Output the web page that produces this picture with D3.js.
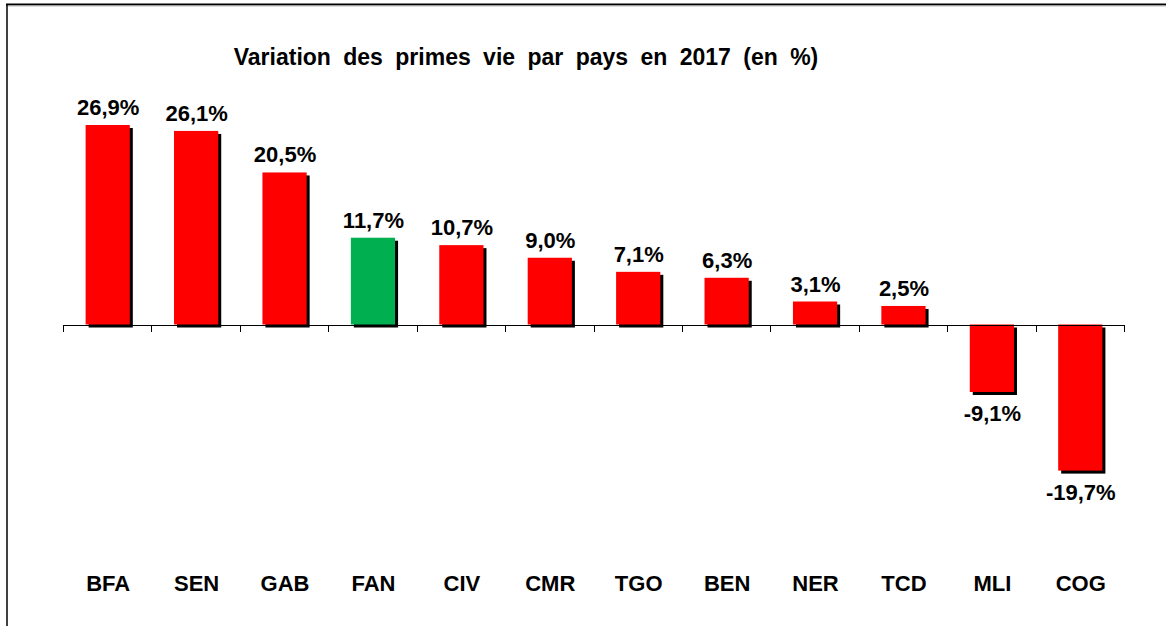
<!DOCTYPE html>
<html>
<head>
<meta charset="utf-8">
<script src="https://cdn.jsdelivr.net/npm/d3@7"></script>
<style>
  body { margin: 0; background: #fff; }
  text { font-family: "Liberation Sans", Arial, sans-serif; font-weight: bold; fill: #000; }
</style>
</head>
<body>
<div id="chart"></div>
<script>
// data
var countries = ["BFA", "SEN", "GAB", "FAN", "CIV", "CMR", "TGO", "BEN", "NER", "TCD", "MLI", "COG"];
var variations = [26.9, 26.1, 20.5, 11.7, 10.7, 9.0, 7.1, 6.3, 3.1, 2.5, -9.1, -19.7];
var highlight = "FAN";
var title = "Variation des primes vie par pays en 2017 (en %)";

var W = 1166, H = 626;

var svg = d3.select("#chart").append("svg")
    .attr("width", W)
    .attr("height", H);

// frame of the chart area (only top and left edges show)
svg.append("line")
    .attr("x1", 6).attr("x2", W).attr("y1", 4.5).attr("y2", 4.5)
    .attr("stroke", "#000").attr("stroke-width", 2);
svg.append("line")
    .attr("x1", 7).attr("x2", W).attr("y1", 6).attr("y2", 6)
    .attr("stroke", "#bbb").attr("stroke-width", 1);
svg.append("line")
    .attr("x1", 7).attr("x2", 7).attr("y1", 4).attr("y2", H)
    .attr("stroke", "#000").attr("stroke-width", 1.5);

// scales
var x = d3.scaleBand()
    .domain(countries)
    .range([63, 1124])
    .paddingInner(0)
    .paddingOuter(0);

var y = d3.scaleLinear()
    .domain([-30, 30])
    .range([547, 102]);

var barW = x.bandwidth() * 0.5;
var off = 3; // shadow offset

function barX(d, i) { return x(countries[i]) + (x.bandwidth() - barW) / 2 + 0.5; }
function barTop(d) { return d >= 0 ? y(d) : y(0); }
function barH(d) { return Math.abs(y(d) - y(0)); }

// shadows
svg.append("g").selectAll("rect")
    .data(variations)
    .enter().append("rect")
    .attr("x", function(d, i) { return barX(d, i) + off; })
    .attr("y", function(d) { return barTop(d) + off; })
    .attr("width", barW)
    .attr("height", barH)
    .attr("fill", "#000");

// bars
svg.append("g").selectAll("rect")
    .data(variations)
    .enter().append("rect")
    .attr("x", barX)
    .attr("y", barTop)
    .attr("width", barW)
    .attr("height", barH)
    .attr("fill", function(d, i) { return countries[i] === highlight ? "#00B050" : "#FF0000"; });

// axis at zero, ticks between categories
var axis = svg.append("g").attr("transform", "translate(0," + Math.round(y(0)) + ")");
axis.append("line")
    .attr("x1", 63).attr("x2", 1124)
    .attr("y1", 0.5).attr("y2", 0.5)
    .attr("stroke", "#000");
axis.selectAll(".tick")
    .data(d3.range(countries.length + 1))
    .enter().append("line")
    .attr("class", "tick")
    .attr("x1", function(k) { return Math.round(63 + k * x.step()) + 0.5; })
    .attr("x2", function(k) { return Math.round(63 + k * x.step()) + 0.5; })
    .attr("y1", 0).attr("y2", 7)
    .attr("stroke", "#000");

// value labels (plain hyphen for negatives, comma decimals)
svg.append("g").selectAll("text")
    .data(variations)
    .enter().append("text")
    .attr("x", function(d, i) { return x(countries[i]) + x.bandwidth() / 2 + 1; })
    .attr("y", function(d) { return d >= 0 ? y(d) - 10 : y(d) + 29; })
    .attr("text-anchor", "middle")
    .style("font-size", "22px")
    .text(function(d) { return (d < 0 ? "-" : "") + Math.abs(d).toFixed(1).replace(".", ",") + "%"; });

// category labels
svg.append("g").selectAll("text")
    .data(countries)
    .enter().append("text")
    .attr("x", function(d) { return x(d) + x.bandwidth() / 2 + 1; })
    .attr("y", 591)
    .attr("text-anchor", "middle")
    .style("font-size", "22px")
    .text(function(d) { return d; });

// title
svg.append("text")
    .attr("x", 526)
    .attr("y", 65)
    .attr("text-anchor", "middle")
    .style("font-size", "23px")
    .style("word-spacing", "6px")
    .text(title);
</script>
</body>
</html>
